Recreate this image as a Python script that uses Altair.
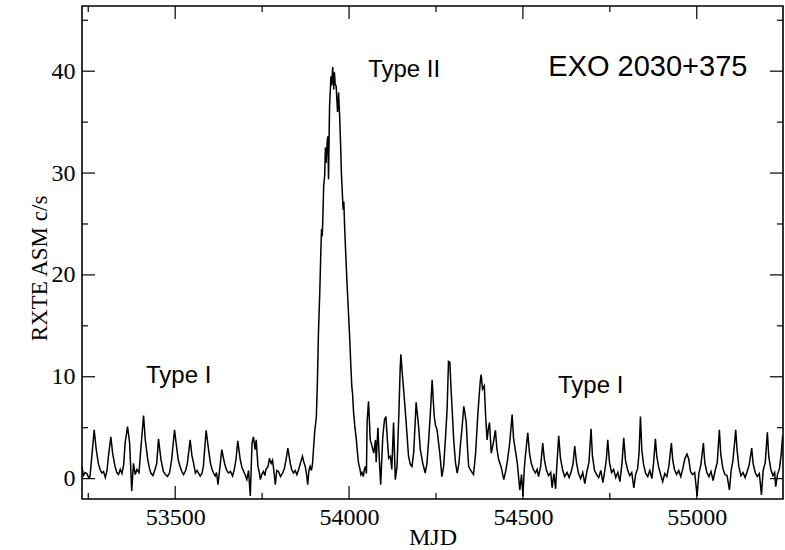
import altair as alt
import pandas as pd

# ---------------- data ----------------
pre_mjd = [53232,53236,53241,53246,53251,53255,53262,53267,53273,53279,
           53284,53289,53294,53299,53304,53308,53315,53320,53327,53332,
           53337,53342,53347,53352,53356,53363,53369,53375,53380,53385,
           53390,53396,53401,53409,53414,53421,53426,53430,53436,53442,
           53447,53452,53459,53466,53472,53478,53484,53490,53498,53505,
           53509,53514,53519,53524,53530,53535,53543,53548,53553,53558,
           53563,53567,53572,53577,53581,53589,53596,53601,53606,53611,
           53615,53619,53623,53629,53634,53642,53647,53653,53659,53665,
           53670,53675,53680,53687,53692,53697,53702,53706,53711,53716,
           53721,53725,53730,53733,53738,53742,53745,53750,53754,53758,
           53761,53767,53771,53776,53780,53784,53788,53792,53797,53803,
           53809,53814,53819,53824,53831,53835,53840,53845,53850,53855,
           53860,53866,53870,53874,53878,53881,53885,53888,53892,53895,
           53898,53901]
pre_rate = [1.2,0.3,0.6,0.5,0.1,0.2,2.85,4.8,2.85,1.5,
            0.9,0.55,0.7,0.1,0.8,2.2,4.1,2.5,1.2,0.6,
            0.4,0.9,0.5,1.4,3.5,5.1,3.5,-1.2,1.5,0.4,
            0.9,0.6,2.85,6.2,3.8,1.9,1.0,0.55,0.3,0.9,
            1.5,3.9,1.9,0.7,0.4,0.2,0.6,1.9,4.8,2.85,
            1.8,1.2,0.7,0.4,0.8,1.5,3.8,2.3,1.5,0.55,
            0.8,0.55,0.25,0.5,1.2,4.75,2.85,1.6,0.9,0.5,
            0.25,0.6,-0.6,1.2,2.85,1.5,0.9,0.55,0.7,0.25,
            0.9,1.9,3.7,1.9,1.1,0.7,0.3,-0.1,0.8,-1.7,
            3.5,4.1,2.85,3.8,1.2,0.6,-0.1,0.5,0.7,0.3,
            0.9,1.2,2.0,1.5,1.8,0.7,-0.6,0.8,0.7,0.2,
            0.55,1.0,1.9,3.0,1.5,0.9,0.55,0.8,0.4,0.9,
            1.5,2.2,1.6,1.2,0.4,-0.6,0.9,1.2,0.8,1.5,
            3.0,4.5]

burst_mjd = [53906,53909,53912,53916,53919,53921,53923,53925,53927,53930,
             53932,53934,53937,53939,53941,53943,53944,53946,53948,53950,
             53953,53955,53956,53958,53960,53963,53965,53967,53970,53972,
             53973,53976,53978,53981,53983,53985,53987,53990,53994,53998,
             54002,54005,54008,54010,54013,54017,54021,54024,54027,54031,
             54034,54037,54041,54044,54047,54050]
burst_rate = [6.1,9.5,14.3,18.5,22.5,24.5,23.8,26.0,28.7,29.8,
              32.5,31.0,33.0,33.6,29.4,34.5,36.6,38.0,39.5,38.6,
              40.4,39.0,38.2,39.9,38.8,38.5,37.2,36.0,37.9,36.2,
              35.6,32.5,30.0,27.8,26.4,27.2,25.0,22.5,19.3,16.5,
              13.7,11.2,9.0,8.4,6.5,5.0,3.8,2.6,1.6,1.0,
              0.4,0.6,0.2,0.9,1.2,0.5]

post_mjd = [54052,54056,54061,54066,54071,54076,54078,54083,54087,54091,
            54097,54102,54106,54110,54114,54119,54123,54128,54133,54138,
            54143,54147,54149,54153,54158,54162,54167,54171,54176,54181,
            54186,54193,54200,54205,54212,54219,54224,54229,54234,54239,
            54242,54245,54249,54253,54261,54267,54272,54277,54282,54286,
            54290,54293,54296,54301,54306,54311,54316,54320,54325,54330,
            54333,54337,54341,54344,54350,54358,54364,54370,54375,54378,
            54380,54384,54389,54393,54397,54401,54404,54409,54415,54421,
            54425,54430,54437,54445,54451,54456,54462,54469,54473,54478,
            54484,54491,54496,54500,54504,54507,54511,54514,54519,54524,
            54530,54536,54541,54545]
post_rate = [5.6,7.6,3.8,3.2,2.5,3.8,1.6,5.0,1.9,-0.6,
             4.1,5.8,6.1,3.9,2.0,2.2,0.9,5.5,-0.1,1.2,
             6.1,10.7,12.2,10.4,8.3,6.5,4.2,2.2,1.4,1.2,
             2.6,7.5,5.1,2.85,1.5,0.55,1.5,3.8,6.5,9.7,
             7.8,6.1,5.2,4.8,2.5,0.2,1.2,3.8,6.8,11.5,
             11.4,9.0,7.1,3.8,1.6,0.55,1.5,3.2,5.0,7.1,
             6.5,5.5,2.8,1.2,0.8,0.4,2.5,6.1,8.5,9.8,
             10.2,8.8,9.1,6.0,3.8,5.0,5.5,2.5,3.5,4.75,
             3.0,1.9,1.2,-0.1,0.8,1.9,3.5,6.3,4.0,2.85,
             1.5,-1.1,0.4,-1.7,1.0,2.2,3.5,4.5,2.5,1.5,
             0.9,0.55,0.9,0.2]

late_mjd = [54551,54557,54562,54568,54574,54580,54584,54589,54594,54598,
            54603,54608,54614,54620,54627,54633,54639,54644,54649,54654,
            54660,54666,54672,54678,54684,54690,54696,54700,54706,54712,
            54718,54724,54730,54736,54740,54744,54749,54755,54761,54767,
            54773,54779,54785,54790,54795,54801,54807,54813,54819,54824,
            54830,54834,54838,54842,54847,54853,54859,54865,54871,54876,
            54881,54885,54890,54896,54902,54908,54914,54920,54927,54931,
            54936,54942,54948,54954,54960,54966,54972,54977,54982,54988,
            54994,55001,55006,55012,55019,55023,55029,55035,55041,55047,
            55053,55059,55065,55069,55075,55081,55087,55094,55099,55104,
            55109,55112,55116,55121,55127,55133,55139,55145,55151,55158,
            55162,55168,55174,55180,55186,55191,55197,55203,55207,55213,
            55219,55224,55227,55232,55238,55243,55247]
late_rate = [1.2,3.5,1.8,0.8,0.3,0.6,-0.9,0.5,-1.0,1.5,
             4.2,2.0,0.9,0.2,0.6,0.1,0.7,1.4,3.2,1.6,
             0.5,0.0,0.6,-0.5,0.7,1.6,4.9,2.2,0.8,0.4,
             0.1,0.8,-0.4,0.9,1.9,3.8,1.6,0.6,0.9,0.1,
             0.6,-0.3,1.5,4.0,1.8,0.9,0.3,0.6,-0.9,0.4,
             1.0,2.5,6.1,2.8,1.4,0.5,0.2,0.8,0.0,1.6,
             3.9,2.2,1.2,0.4,-0.3,0.5,0.2,1.3,3.5,1.8,
             0.9,0.4,0.8,0.2,1.0,2.0,2.4,1.9,0.7,0.4,
             0.6,-1.7,0.5,1.4,3.5,1.6,0.6,0.2,0.7,-0.2,
             0.8,1.6,4.8,2.4,1.0,0.4,0.3,-1.1,0.8,1.8,
             3.6,4.8,2.8,1.2,0.3,0.6,0.1,0.7,1.4,3.0,
             1.5,0.6,0.2,0.5,-1.6,0.8,1.6,4.55,2.2,0.9,
             0.3,0.6,-0.8,0.4,1.0,2.5,4.2]

x_major = [53500, 54000, 54500, 55000]
x_minor = [53250, 53750, 54250, 54750]
y_major = [0, 10, 20, 30, 40]
y_minor = [5, 15, 25, 35, 45]

ann_labels = ["Type I", "Type II", "Type I"]
ann_mjd = [53416, 54055, 54601]
ann_rate = [9.4, 39.4, 8.4]
src_label = ["EXO 2030+375"]
src_mjd = [54573]
src_rate = [39.5]

# ---------------- build tables ----------------
for a, b in [(pre_mjd, pre_rate), (burst_mjd, burst_rate),
             (post_mjd, post_rate), (late_mjd, late_rate)]:
    assert len(a) == len(b), (len(a), len(b))

curve = pd.DataFrame({
    "mjd": pre_mjd + burst_mjd + post_mjd + late_mjd,
    "rate": pre_rate + burst_rate + post_rate + late_rate,
})

W, H = 701, 493
MAJ, MIN = 13, 6

xs = alt.Scale(domain=[53232, 55248], nice=False, zero=False)
ys = alt.Scale(domain=[-2, 46.4], nice=False, zero=False)

line = alt.Chart(curve).mark_line(color="black", strokeWidth=1.5, clip=True).encode(
    x=alt.X("mjd:Q", scale=xs, axis=alt.Axis(
        values=x_major, format="d", title="MJD",
        labelFont="Liberation Serif", labelFontSize=24, labelColor="black",
        labelPadding=6, titleFont="Liberation Serif", titleFontSize=24,
        titleFontWeight="normal", titleColor="black",
        titleY=45, titleBaseline="alphabetic")),
    y=alt.Y("rate:Q", scale=ys, axis=alt.Axis(
        values=y_major, title="RXTE ASM c/s",
        labelFont="Liberation Serif", labelFontSize=24, labelColor="black",
        labelPadding=7, titleFont="Liberation Serif", titleFontSize=23,
        titleFontWeight="normal", titleColor="black",
        titleX=-36, titleY=262, titleAngle=270, titleAlign="center",
        titleBaseline="alphabetic")),
)

def xticks(vals, length):
    d = pd.DataFrame({"mjd": vals})
    b = alt.Chart(d).mark_rule(color="black", strokeWidth=1.2).encode(
        x=alt.X("mjd:Q", scale=xs), y=alt.value(H), y2=alt.value(H - length))
    t = alt.Chart(d).mark_rule(color="black", strokeWidth=1.2).encode(
        x=alt.X("mjd:Q", scale=xs), y=alt.value(0), y2=alt.value(length))
    return [b, t]

def yticks(vals, length):
    d = pd.DataFrame({"rate": vals})
    l = alt.Chart(d).mark_rule(color="black", strokeWidth=1.2).encode(
        y=alt.Y("rate:Q", scale=ys), x=alt.value(0), x2=alt.value(length))
    r = alt.Chart(d).mark_rule(color="black", strokeWidth=1.2).encode(
        y=alt.Y("rate:Q", scale=ys), x=alt.value(W), x2=alt.value(W - length))
    return [l, r]

ann = alt.Chart(pd.DataFrame({"mjd": ann_mjd, "rate": ann_rate, "label": ann_labels})).mark_text(
    font="Liberation Sans", fontSize=24, color="black", align="left", baseline="alphabetic"
).encode(x=alt.X("mjd:Q", scale=xs), y=alt.Y("rate:Q", scale=ys), text="label:N")

src = alt.Chart(pd.DataFrame({"mjd": src_mjd, "rate": src_rate, "label": src_label})).mark_text(
    font="Liberation Sans", fontSize=29, color="black", align="left", baseline="alphabetic"
).encode(x=alt.X("mjd:Q", scale=xs), y=alt.Y("rate:Q", scale=ys), text="label:N")

layers = [line] + xticks(x_major, MAJ) + xticks(x_minor, MIN) + \
         yticks(y_major, MAJ) + yticks(y_minor, MIN) + [ann, src]

chart = alt.layer(*layers).properties(
    width=W, height=H,
    autosize=alt.AutoSizeParams(type="none"),
    padding={"left": 82, "top": 6, "right": 2, "bottom": 51},
).configure_view(stroke="black", strokeWidth=1.6).configure_axis(
    domain=False, ticks=False, grid=False
)

chart.save("out.html", embed_options={"renderer": "svg", "actions": False})
